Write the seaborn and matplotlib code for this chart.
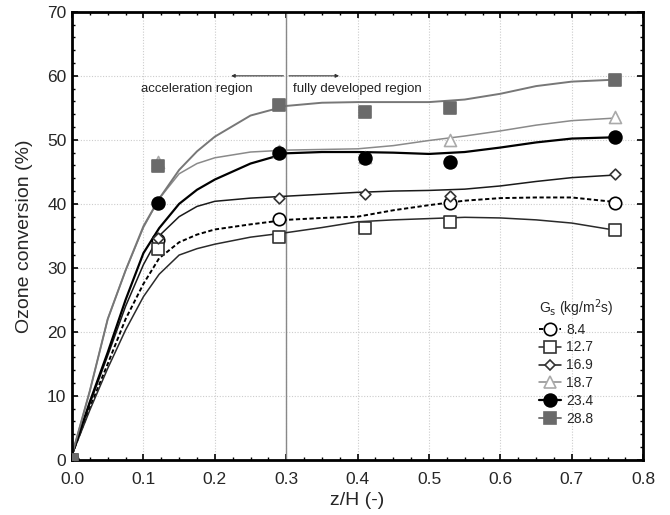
import numpy as np
import pandas as pd
import matplotlib
matplotlib.use("Agg")
import matplotlib.pyplot as plt
from matplotlib.lines import Line2D
from matplotlib.ticker import MultipleLocator, FormatStrFormatter
import seaborn as sns

sns.set_theme(style="white")
plt.rcParams['font.family'] = ['Liberation Sans', 'DejaVu Sans']

# measured points
z_meas = [0.0, 0.12, 0.29, 0.41, 0.53, 0.76]
conv_84 = [0.0, 34.3, 37.6, np.nan, 40.1, 40.1]
conv_127 = [0.0, 33.0, 34.8, 36.3, 37.2, 35.9]
conv_169 = [0.0, 34.6, 40.9, 41.5, 41.2, 44.6]
conv_187 = [0.0, 46.6, 48.2, 47.3, 49.9, 53.5]
conv_234 = [0.0, 40.1, 48.0, 47.2, 46.6, 50.4]
conv_288 = [0.0, 45.9, 55.5, 54.3, 54.9, 59.3]

# fitted curves
z_fit = [0.0, 0.025, 0.05, 0.075, 0.1, 0.122, 0.15, 0.175, 0.2, 0.25, 0.3, 0.35,
         0.4, 0.45, 0.5, 0.55, 0.6, 0.65, 0.7, 0.76]
fit_84 = [0.8, 8.2, 15.0, 22.0, 27.5, 31.5, 34.0, 35.2, 36.0, 36.8, 37.5, 37.8,
          38.0, 39.0, 39.8, 40.5, 40.9, 41.0, 41.0, 40.3]
fit_127 = [0.8, 7.8, 14.3, 20.3, 25.5, 29.0, 32.0, 33.0, 33.7, 34.8, 35.5, 36.3,
           37.2, 37.5, 37.7, 37.9, 37.8, 37.5, 37.0, 35.9]
fit_169 = [0.8, 8.8, 16.3, 24.0, 30.5, 35.0, 38.0, 39.6, 40.4, 40.9, 41.2, 41.5,
           41.8, 42.0, 42.1, 42.3, 42.8, 43.5, 44.1, 44.5]
fit_187 = [0.8, 10.8, 22.0, 29.6, 36.3, 40.8, 44.7, 46.3, 47.2, 48.1, 48.4, 48.5,
           48.6, 49.1, 49.9, 50.6, 51.4, 52.3, 53.0, 53.4]
fit_234 = [0.8, 9.1, 16.8, 25.0, 32.3, 36.2, 40.0, 42.2, 43.8, 46.3, 47.9, 48.1,
           48.1, 48.0, 47.8, 48.1, 48.8, 49.6, 50.2, 50.4]
fit_288 = [0.8, 10.8, 22.0, 29.6, 36.5, 40.8, 45.3, 48.2, 50.5, 53.8, 55.3, 55.8,
           55.9, 55.9, 55.9, 56.3, 57.2, 58.4, 59.1, 59.4]

labels = ["8.4", "12.7", "16.9", "18.7", "23.4", "28.8"]

fig = plt.figure(figsize=(6.7, 5.15), dpi=100)
ax = fig.add_axes([0.1075, 0.107, 0.8525, 0.870])

styles = {
    "8.4":  dict(lc="black", lw=1.4, ls=(0, (2.2, 1.3)), m="o", s=80, fc="white", ec="black"),
    "12.7": dict(lc="#2a2a2a", lw=1.1, ls="-", m="s", s=70, fc="white", ec="#333333"),
    "16.9": dict(lc="#1a1a1a", lw=1.1, ls="-", m="D", s=30, fc="white", ec="#333333"),
    "18.7": dict(lc="#8a8a8a", lw=1.1, ls="-", m="^", s=75, fc="white", ec="#aaaaaa"),
    "23.4": dict(lc="black", lw=1.6, ls="-", m="o", s=85, fc="black", ec="black"),
    "28.8": dict(lc="#777777", lw=1.4, ls="-", m="s", s=80, fc="#6a6a6a", ec="#6a6a6a"),
}
fits = {"8.4": fit_84, "12.7": fit_127, "16.9": fit_169, "18.7": fit_187,
        "23.4": fit_234, "28.8": fit_288}
meas = {"8.4": conv_84, "12.7": conv_127, "16.9": conv_169, "18.7": conv_187,
        "23.4": conv_234, "28.8": conv_288}

ax.axvline(0.3, color="#888888", lw=1.0, zorder=1)

for lab in labels:
    st = styles[lab]
    sns.lineplot(x=z_fit, y=fits[lab], ax=ax, color=st["lc"], lw=st["lw"],
                 linestyle=st["ls"], sort=False, zorder=2)

order = ["18.7", "8.4", "12.7", "16.9", "23.4", "28.8"]
for lab in order:
    st = styles[lab]
    df = pd.DataFrame({"z": z_meas, "c": meas[lab]}).dropna()
    sns.scatterplot(data=df, x="z", y="c", ax=ax, marker=st["m"], s=st["s"],
                    color=st["fc"], edgecolor=st["ec"], linewidth=1.2,
                    zorder=3, clip_on=True)

# axes, grid
ax.set_xlim(0, 0.8)
ax.set_ylim(0, 70)
ax.xaxis.set_major_locator(MultipleLocator(0.1))
ax.xaxis.set_minor_locator(MultipleLocator(0.025))
ax.xaxis.set_major_formatter(FormatStrFormatter("%.1f"))
ax.yaxis.set_major_locator(MultipleLocator(10))
ax.yaxis.set_minor_locator(MultipleLocator(2))
ax.grid(True, which="major", color="#cccccc", ls=(0, (1, 1.5)), lw=0.8)
ax.set_axisbelow(True)

# annotations
ax.annotate("", xy=(0.219, 60), xytext=(0.3, 60),
            arrowprops=dict(arrowstyle="-|>", color="#333333", lw=0.8,
                            mutation_scale=5))
ax.annotate("", xy=(0.378, 60), xytext=(0.3, 60),
            arrowprops=dict(arrowstyle="-|>", color="#333333", lw=0.8,
                            mutation_scale=5))
ax.text(0.175, 58.0, "acceleration region", ha="center", va="center",
        fontsize=9.5, color="#222222")
ax.text(0.4, 58.0, "fully developed region", ha="center", va="center",
        fontsize=9.5, color="#222222")

# legend
handles = []
for lab in labels:
    st = styles[lab]
    handles.append(Line2D([], [], color=st["lc"], lw=st["lw"], ls=st["ls"],
                          marker=st["m"], markersize=np.sqrt(st["s"]),
                          markerfacecolor=st["fc"], markeredgecolor=st["ec"],
                          markeredgewidth=1.2))
leg = ax.legend(handles, labels, title=r"G$_\mathrm{s}$ (kg/m$^2$s)",
                loc="upper left", bbox_to_anchor=(0.8, 0.385), frameon=False,
                fontsize=10, title_fontsize=10, handlelength=1.6,
                handletextpad=0.4, labelspacing=0.28, borderpad=0.2)
leg._legend_box.align = "left"

ax.set_xlabel("z/H (-)", fontsize=14, labelpad=3)
ax.set_ylabel("Ozone conversion (%)", fontsize=14, labelpad=10)
ax.tick_params(axis="both", which="major", direction="in", length=4, width=1.2,
               labelsize=12.5, top=True, right=True, bottom=True, left=True,
               color="black")
ax.tick_params(axis="x", which="major", pad=9)
ax.tick_params(axis="y", which="major", pad=4)
ax.tick_params(axis="both", which="minor", direction="in", length=2.5, width=1.0,
               top=True, right=True, bottom=True, left=True, color="black")
for sp in ax.spines.values():
    sp.set_color("black")
    sp.set_linewidth(2.0)

fig.savefig("out.png", dpi=100)
